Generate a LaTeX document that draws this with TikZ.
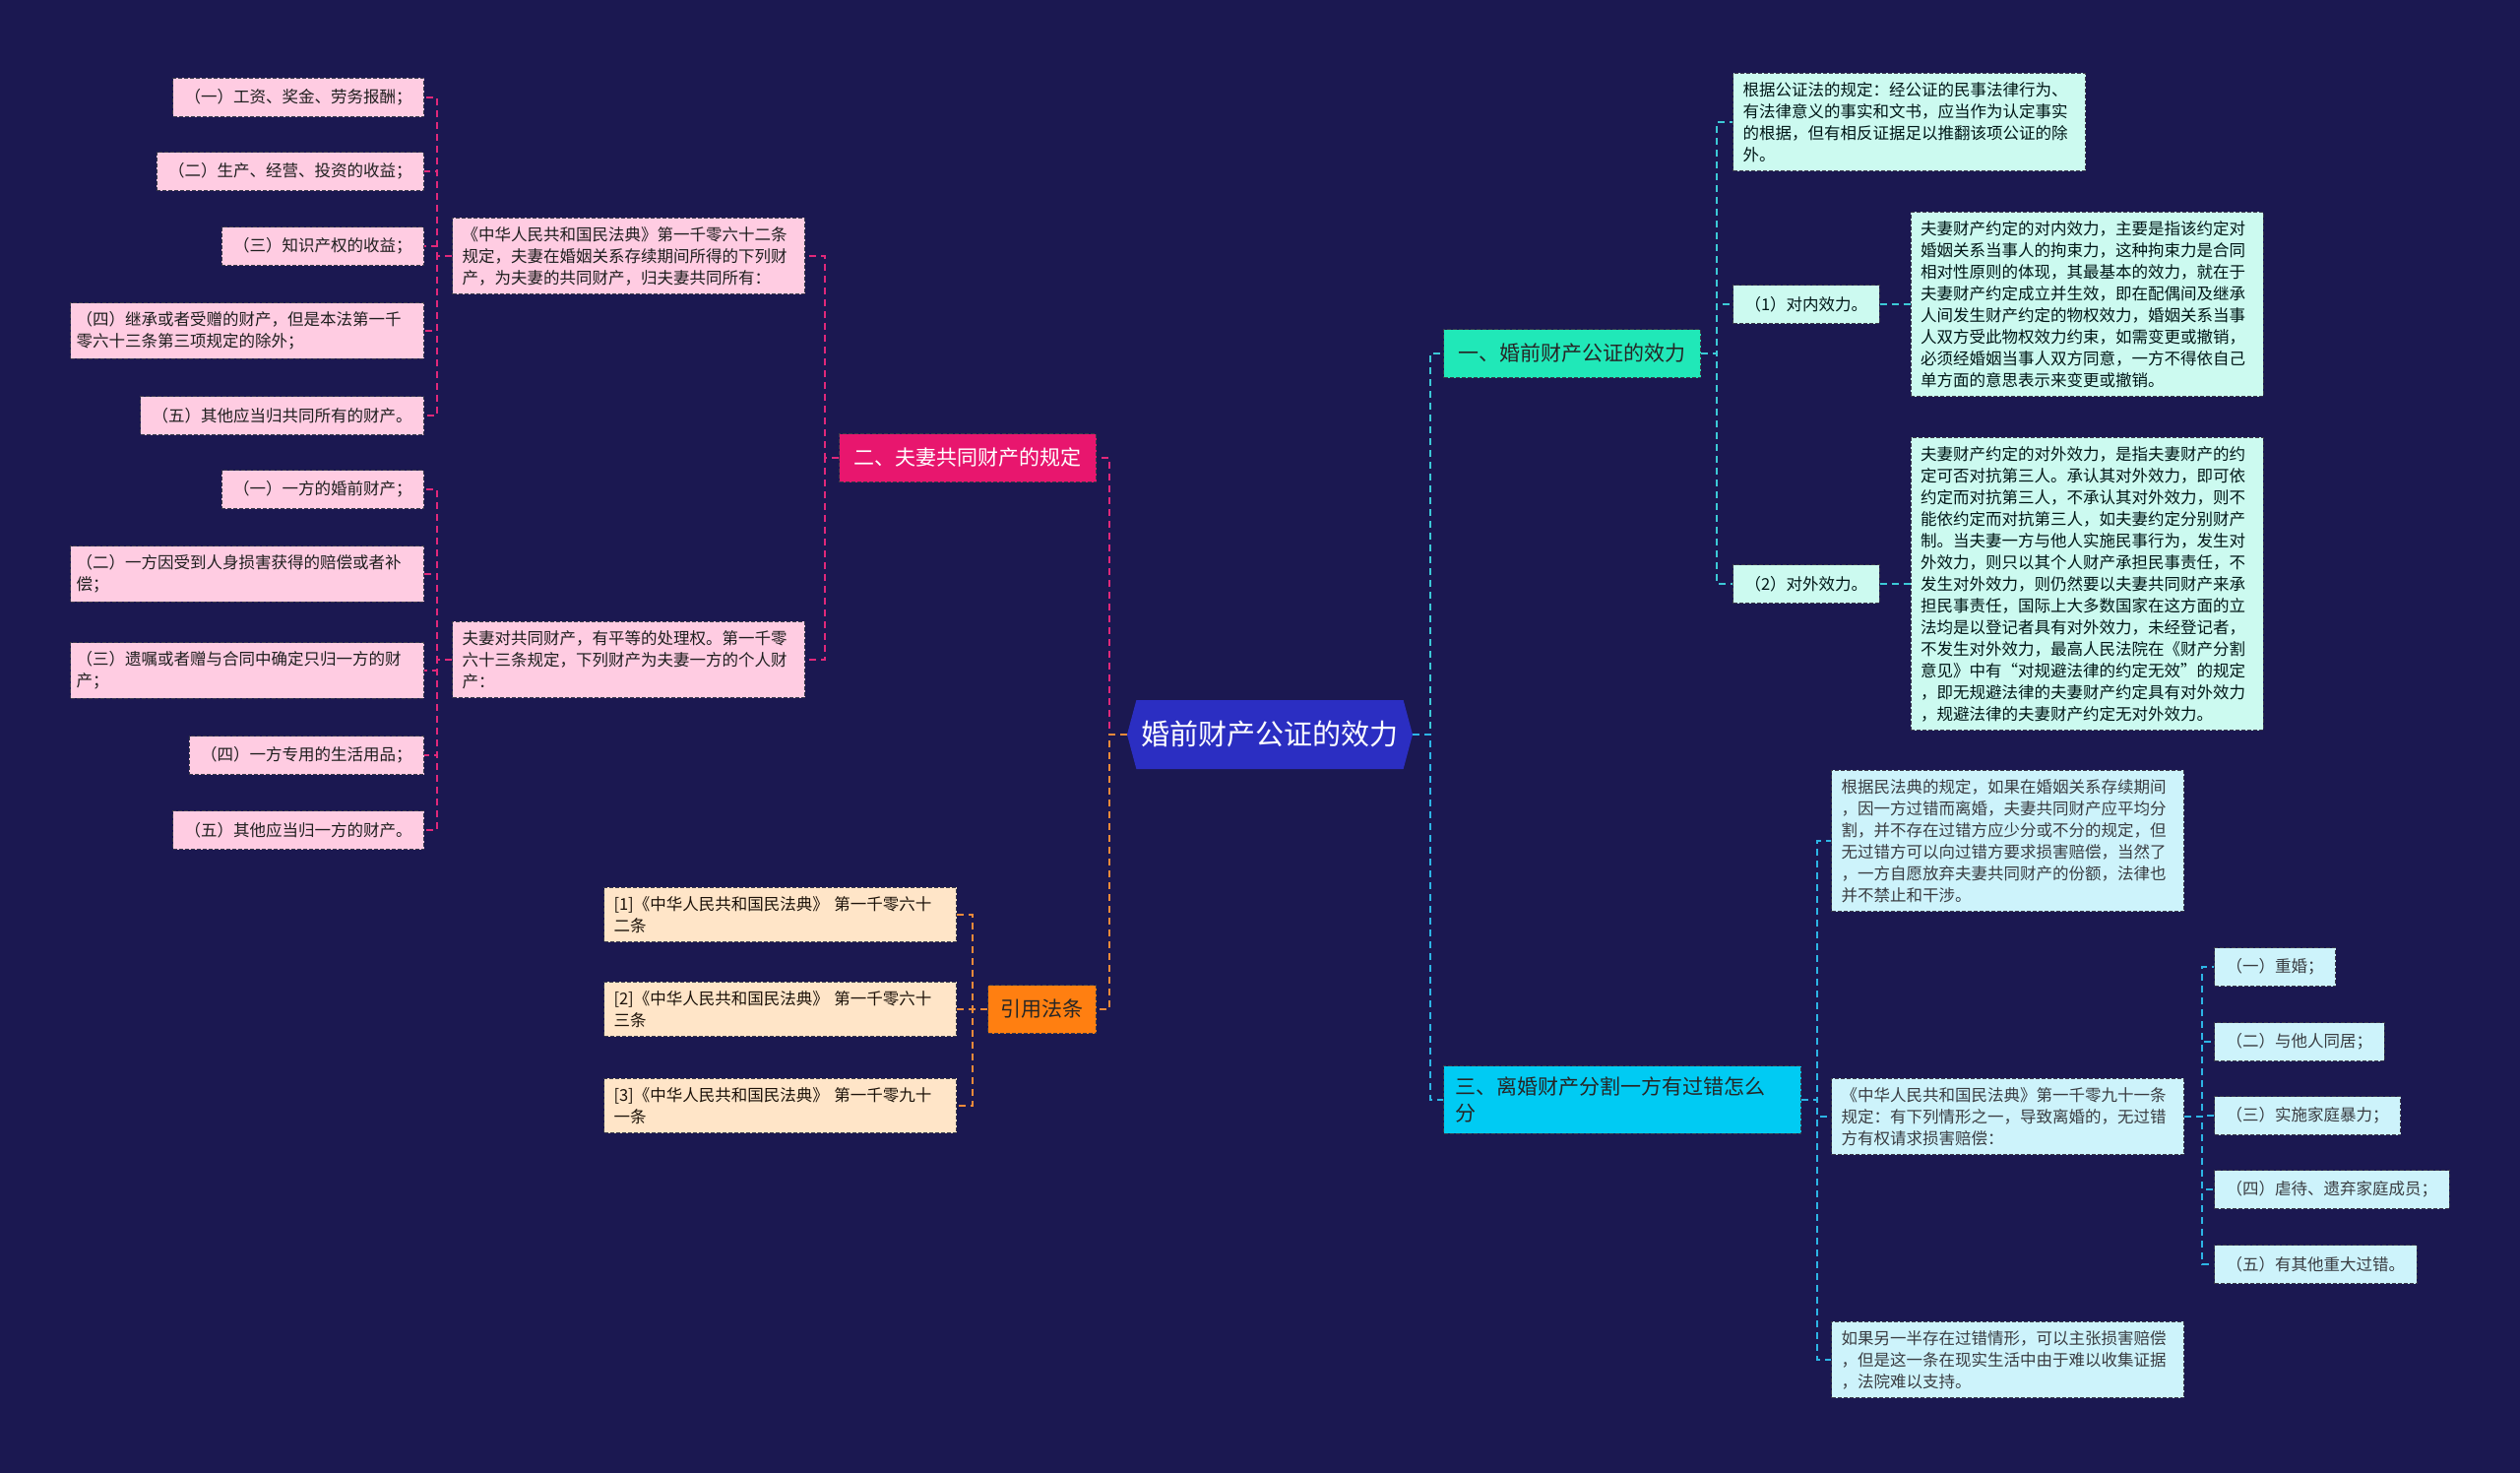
\documentclass[tikz,border=0pt]{standalone}
\usepackage{fontspec}
\setmainfont{Noto Sans CJK SC}
\usepackage{xcolor}
\usepackage{tikz}
\usetikzlibrary{shapes.symbols, positioning}
\definecolor{bgnavy}{HTML}{1B1851}
\definecolor{rootblue}{HTML}{2B2EC2}
\definecolor{pinktopic}{HTML}{E8166E}
\definecolor{pinkfill}{HTML}{FFCCE2}
\definecolor{pinkline}{HTML}{E0287A}
\definecolor{orangetopic}{HTML}{FF7F11}
\definecolor{peachfill}{HTML}{FFE5C8}
\definecolor{orangeline}{HTML}{EE8A3A}
\definecolor{tealtopic}{HTML}{20E8B8}
\definecolor{mintfill}{HTML}{CCFAF0}
\definecolor{tealline}{HTML}{3CC9D6}
\definecolor{cyantopic}{HTML}{00CBF3}
\definecolor{icefill}{HTML}{CDF3FB}
\definecolor{cyanline}{HTML}{2DB5E5}
\definecolor{boxedge}{HTML}{3A3A4A}
\tikzset{
    rootnode/.style = {signal, signal to=west and east, signal pointer angle=150, fill=rootblue, text=white, minimum width=290pt, minimum height=70pt, font=\fontsize{29pt}{34pt}\selectfont},
    topic/.style = {rectangle, draw=boxedge, dash pattern=on 4pt off 2pt, line width=1pt, inner xsep=15pt, minimum height=49pt, font=\fontsize{21pt}{27pt}\selectfont},
    topicpink/.style = {topic, fill=pinktopic, text=white},
    topicorange/.style = {topic, fill=orangetopic, text=black!85, inner xsep=13pt},
    topicteal/.style = {topic, fill=tealtopic, text=black!85},
    topiccyan/.style = {topic, fill=cyantopic, text=black!85, text width=339pt, align=left, inner xsep=12pt, inner ysep=11pt},
    leaf/.style = {rectangle, draw=boxedge, dash pattern=on 4pt off 2pt, line width=1pt, inner xsep=12pt, inner ysep=9pt, minimum height=39pt, align=left, font=\fontsize{16.5pt}{22pt}\selectfont},
    note/.style = {leaf, text width=338pt, inner xsep=10pt},
    itempink/.style = {leaf, fill=pinkfill, text=black!88, anchor=east},
    longpink/.style = {itempink, text width=347pt, inner xsep=6pt},
    notepink/.style = {note, fill=pinkfill, text=black!88, anchor=east},
    notepeach/.style = {note, fill=peachfill, text=black!85!brown, anchor=east},
    noteteal/.style = {note, fill=mintfill, text=black!82!teal, anchor=west},
    itemteal/.style = {leaf, fill=mintfill, text=black!82!teal, anchor=west},
    notecyan/.style = {note, fill=icefill, text=black!85!cyan, anchor=west},
    itemcyan/.style = {leaf, fill=icefill, text=black!85!cyan, anchor=west},
    link/.style = {line width=2pt, dash pattern=on 7pt off 5pt},
    linepink/.style = {link, draw=pinkline},
    lineorange/.style = {link, draw=orangeline},
    lineteal/.style = {link, draw=tealline},
    linecyan/.style = {link, draw=cyanline}
}
\begin{document}
\begin{tikzpicture}[x=1pt, y=-1pt]
\fill [bgnavy] (0,0) rectangle (2560,1496);
\useasboundingbox (0,0) rectangle (2560,1496);

\node (root) [rootnode] at (1290,746) {婚前财产公证的效力};
\node (b1) [topicteal, anchor=west] at (1466,359) {一、婚前财产公证的效力};
\node (b2) [topicpink, anchor=east] at (1114,465) {二、夫妻共同财产的规定};
\node (b3) [topiccyan, anchor=west] at (1466,1117) {三、离婚财产分割一方有过错怎么\\分};
\node (b4) [topicorange, anchor=east] at (1114,1025) {引用法条};

\node (law1) [notepink] at (818,260) {《中华人民共和国民法典》第一千零六十二条\\规定，夫妻在婚姻关系存续期间所得的下列财\\产，为夫妻的共同财产，归夫妻共同所有：};
\node (law2) [notepink] at (818,670) {夫妻对共同财产，有平等的处理权。第一千零\\六十三条规定，下列财产为夫妻一方的个人财\\产：};

\node (p1) [itempink] at (431,99) {（一）工资、奖金、劳务报酬；};
\node (p2) [itempink] at (431,174) {（二）生产、经营、投资的收益；};
\node (p3) [itempink] at (431,250) {（三）知识产权的收益；};
\node (p4) [longpink] at (431,336) {（四）继承或者受赠的财产，但是本法第一千\\零六十三条第三项规定的除外；};
\node (p5) [itempink] at (431,422) {（五）其他应当归共同所有的财产。};

\node (q1) [itempink] at (431,497) {（一）一方的婚前财产；};
\node (q2) [longpink] at (431,583) {（二）一方因受到人身损害获得的赔偿或者补\\偿；};
\node (q3) [longpink] at (431,681) {（三）遗嘱或者赠与合同中确定只归一方的财\\产；};
\node (q4) [itempink] at (431,767) {（四）一方专用的生活用品；};
\node (q5) [itempink] at (431,843) {（五）其他应当归一方的财产。};

\node (cite1) [notepeach] at (972,929) {[1]《中华人民共和国民法典》 第一千零六十\\二条};
\node (cite2) [notepeach] at (972,1025) {[2]《中华人民共和国民法典》 第一千零六十\\三条};
\node (cite3) [notepeach] at (972,1123) {[3]《中华人民共和国民法典》 第一千零九十\\一条};

\node (t0) [noteteal] at (1760,124) {根据公证法的规定：经公证的民事法律行为、\\有法律意义的事实和文书，应当作为认定事实\\的根据，但有相反证据足以推翻该项公证的除\\外。};
\node (t1) [itemteal] at (1760,309) {（1）对内效力。};
\node (t1note) [noteteal, right=31pt of t1] {夫妻财产约定的对内效力，主要是指该约定对\\婚姻关系当事人的拘束力，这种拘束力是合同\\相对性原则的体现，其最基本的效力，就在于\\夫妻财产约定成立并生效，即在配偶间及继承\\人间发生财产约定的物权效力，婚姻关系当事\\人双方受此物权效力约束，如需变更或撤销，\\必须经婚姻当事人双方同意，一方不得依自己\\单方面的意思表示来变更或撤销。};
\node (t2) [itemteal] at (1760,593) {（2）对外效力。};
\node (t2note) [noteteal, right=31pt of t2] {夫妻财产约定的对外效力，是指夫妻财产的约\\定可否对抗第三人。承认其对外效力，即可依\\约定而对抗第三人，不承认其对外效力，则不\\能依约定而对抗第三人，如夫妻约定分别财产\\制。当夫妻一方与他人实施民事行为，发生对\\外效力，则只以其个人财产承担民事责任，不\\发生对外效力，则仍然要以夫妻共同财产来承\\担民事责任，国际上大多数国家在这方面的立\\法均是以登记者具有对外效力，未经登记者，\\不发生对外效力，最高人民法院在《财产分割\\意见》中有“对规避法律的约定无效”的规定\\，即无规避法律的夫妻财产约定具有对外效力\\，规避法律的夫妻财产约定无对外效力。};

\node (c0) [notecyan] at (1860,854) {根据民法典的规定，如果在婚姻关系存续期间\\，因一方过错而离婚，夫妻共同财产应平均分\\割，并不存在过错方应少分或不分的规定，但\\无过错方可以向过错方要求损害赔偿，当然了\\，一方自愿放弃夫妻共同财产的份额，法律也\\并不禁止和干涉。};
\node (law3) [notecyan] at (1860,1134) {《中华人民共和国民法典》第一千零九十一条\\规定：有下列情形之一，导致离婚的，无过错\\方有权请求损害赔偿：};
\node (c2) [notecyan] at (1860,1381) {如果另一半存在过错情形，可以主张损害赔偿\\，但是这一条在现实生活中由于难以收集证据\\，法院难以支持。};

\node (r1) [itemcyan] at (2249,982) {（一）重婚；};
\node (r2) [itemcyan] at (2249,1058) {（二）与他人同居；};
\node (r3) [itemcyan] at (2249,1133) {（三）实施家庭暴力；};
\node (r4) [itemcyan] at (2249,1208) {（四）虐待、遗弃家庭成员；};
\node (r5) [itemcyan] at (2249,1284) {（五）有其他重大过错。};

\draw [linepink] (root.west) -- ++(-18,0) |- (b2.east);
\draw [lineorange] (root.west) -- ++(-18,0) |- (b4.east);
\draw [lineteal] (root.east) -- ++(18,0) |- (b1.west);
\draw [linecyan] (root.east) -- ++(18,0) |- (b3.west);

\draw [linepink] (b2.west) -- ++(-14,0) |- (law1.east);
\draw [linepink] (b2.west) -- ++(-14,0) |- (law2.east);
\foreach \n in {p1,p2,p3,p4,p5}
    \draw [linepink] (law1.west) -- ++(-15,0) |- (\n.east);
\foreach \n in {q1,q2,q3,q4,q5}
    \draw [linepink] (law2.west) -- ++(-15,0) |- (\n.east);
\foreach \n in {cite1,cite2,cite3}
    \draw [lineorange] (b4.west) -- ++(-15,0) |- (\n.east);

\foreach \n in {t0,t1,t2}
    \draw [lineteal] (b1.east) -- ++(16,0) |- (\n.west);
\draw [lineteal] (t1.east) -- (t1note.west);
\draw [lineteal] (t2.east) -- (t2note.west);
\foreach \n in {c0,law3,c2}
    \draw [linecyan] (b3.east) -- ++(16,0) |- (\n.west);
\foreach \n in {r1,r2,r3,r4,r5}
    \draw [linecyan] (law3.east) -- ++(18,0) |- (\n.west);
\end{tikzpicture}
\end{document}
